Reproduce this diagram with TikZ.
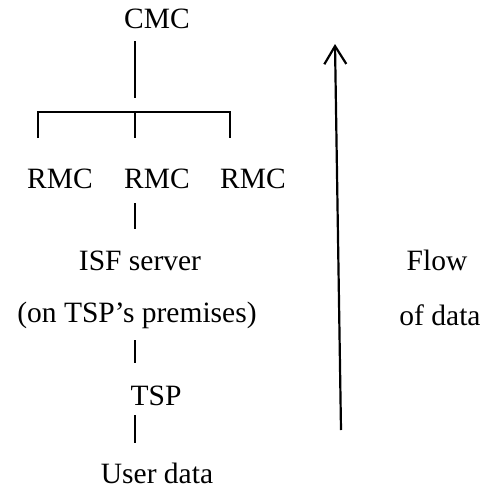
\documentclass[tikz,border=0pt]{standalone}
\usepackage{fontspec}
\setmainfont{Liberation Serif}
\usetikzlibrary{arrows.meta}
\begin{document}
\begin{tikzpicture}[x=1pt,y=-1pt,
  lbl/.style={anchor=base,inner sep=0pt,font=\fontsize{29.5}{31}\selectfont},
  conn/.style={line width=2pt},
  flowarrow/.style={line width=2.2pt,-{Straight Barb[length=18pt,width=22pt,line width=2.2pt]}}]
\useasboundingbox (0,0) rectangle (485,488);
\node[lbl] (cmc) at (157,28) {CMC};
\node[lbl] (rmc1) at (60,188) {RMC};
\node[lbl] (rmc2) at (157,188) {RMC};
\node[lbl] (rmc3) at (253,188) {RMC};
\node[lbl] (isf) at (140,270) {ISF server};
\node[lbl] (prem) at (137,322) {(on TSP’s premises)};
\node[lbl] (tsp) at (156,405) {TSP};
\node[lbl] (user) at (157,483) {User data};
\node[lbl] (flow) at (437,270) {Flow};
\node[lbl] (ofdata) at (440,325) {of data};
% connector coordinates
\coordinate (c1a) at (135,41);
\coordinate (c1b) at (135,98);
\coordinate (bl) at (38,138);
\coordinate (blt) at (38,112);
\coordinate (brt) at (230,112);
\coordinate (br) at (230,138);
\coordinate (bm) at (135,112);
\coordinate (bmb) at (135,138);
\coordinate (c2a) at (135,203);
\coordinate (c2b) at (135,229);
\coordinate (c3a) at (135,340);
\coordinate (c3b) at (135,363);
\coordinate (c4a) at (135,415);
\coordinate (c4b) at (135,443);
\coordinate (ab) at (341,430);
\coordinate (at) at (335,44);
\draw[conn] (c1a) -- (c1b);
\draw[conn,line join=miter] (bl) -- (blt) -- (brt) -- (br);
\draw[conn] (bm) -- (bmb);
\draw[conn] (c2a) -- (c2b);
\draw[conn] (c3a) -- (c3b);
\draw[conn] (c4a) -- (c4b);
\draw[flowarrow] (ab) -- (at);
\end{tikzpicture}
\end{document}
